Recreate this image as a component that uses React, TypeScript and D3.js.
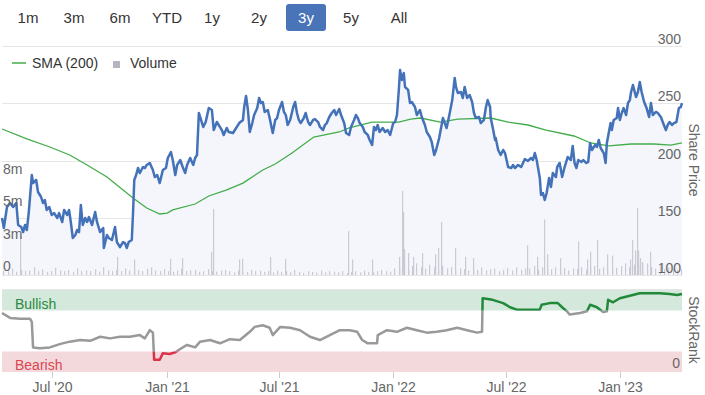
import React from 'react';
import * as d3 from 'd3';

const W = 705;
const H = 395;
const START = new Date(2020, 3, 11);
const END = new Date(2023, 3, 11);

const rangeButtons = ['1m', '3m', '6m', 'YTD', '1y', '2y', '3y', '5y', 'All'];
const rangeButtonX = [28, 74, 120, 167, 212, 259, 306, 351, 399];
const selectedButton = '3y';

const priceTicks = [100, 150, 200, 250, 300];
const volumeTicks = [0, 2.5, 5, 7.5];
const volumeTickLabels = ['0', '3m', '5m', '8m'];
const xTickDates = ['2020-07-01', '2021-01-01', '2021-07-01', '2022-01-01', '2022-07-01', '2023-01-01'];
const xTickLabels = ["Jul '20", "Jan '21", "Jul '21", "Jan '22", "Jul '22", "Jan '23"];

// Share price: day offset from START, price
const priceDays = [0,3,8,13,18,23,26,31,34,37,40,43,48,50,55,58,63,66,69,72,76,80,84,89,92,97,100,105,108,111,114,118,121,124,127,130,134,137,140,145,150,153,158,163,164,169,172,177,182,185,190,195,198,201,204,209,211,213,216,219,222,227,230,233,238,243,246,250,254,259,264,267,272,275,279,282,287,291,295,298,303,308,311,314,317,324,328,333,338,341,346,349,354,357,362,365,372,377,382,388,390,393,396,399,403,406,411,414,417,420,423,428,431,436,440,443,446,451,454,457,460,464,469,472,475,478,481,486,489,493,496,501,504,509,512,517,520,523,527,531,535,538,543,546,551,554,559,562,567,570,573,576,581,584,589,592,596,599,602,605,608,613,617,621,625,630,633,636,639,641,644,647,649,654,657,660,665,668,673,676,681,684,689,692,696,699,704,707,710,713,716,721,725,729,731,734,739,742,745,749,753,757,760,763,768,771,776,779,782,786,787,791,794,795,799,803,807,810,815,820,823,826,831,836,839,842,847,852,855,858,861,866,868,871,874,877,881,884,887,892,894,898,902,906,911,916,919,922,925,928,933,936,941,944,947,950,955,958,961,964,969,972,974,977,980,982,985,990,992,995,998,1001,1005,1008,1011,1013,1016,1021,1024,1027,1030,1034,1038,1042,1045,1048,1053,1056,1061,1064,1069,1072,1075,1079,1082,1086,1090,1093,1095];
const priceValues = [149.8,141.0,159.4,162.9,159.4,162.9,143.7,141.9,137.5,143.7,139.3,154.1,187.3,180.3,183.0,172.5,168.1,162.9,165.5,156.8,159.4,152.4,154.1,149.8,154.1,146.3,156.8,152.4,156.8,145.4,132.3,134.9,139.3,137.5,161.1,143.7,149.8,146.3,150.6,143.7,155.0,146.3,137.5,141.0,123.6,134.9,132.3,130.6,141.9,128.8,124.4,128.8,127.9,123.6,128.8,130.6,154.1,183.0,187.3,193.4,189.1,194.3,193.4,196.1,197.8,191.7,185.6,187.3,180.3,191.7,193.4,202.2,207.4,200.4,187.3,196.1,200.4,194.3,189.1,196.1,202.2,196.1,202.2,204.8,241.5,229.3,233.6,245.8,244.1,226.6,233.6,231.0,226.6,222.3,228.4,224.9,224.0,228.4,232.7,235.4,246.7,256.3,244.1,224.9,232.7,239.7,245.8,254.6,250.2,251.1,242.4,244.1,237.1,224.0,235.4,237.1,244.1,251.1,242.4,239.7,231.0,235.4,246.7,251.1,241.5,235.4,232.7,237.1,241.5,233.6,231.0,235.4,236.2,233.6,229.3,226.6,231.0,232.7,238.0,241.5,244.1,239.7,245.0,239.7,232.7,224.0,222.3,229.3,235.4,239.7,237.1,232.7,229.3,224.9,222.3,217.9,213.5,229.3,226.6,231.0,224.9,228.4,224.9,226.6,222.3,232.7,233.6,239.7,261.6,279.0,270.3,276.4,264.2,261.6,250.2,251.1,246.7,239.7,244.1,238.0,231.0,224.9,220.5,216.2,204.8,209.2,219.6,228.4,237.1,232.7,228.4,241.5,252.8,272.1,264.2,259.0,259.8,254.6,264.2,254.6,257.2,251.1,241.5,237.1,238.0,232.7,235.4,245.8,252.8,246.7,237.1,226.6,217.9,219.6,209.2,204.8,209.2,206.5,194.3,193.4,196.1,193.4,196.1,194.3,197.8,201.3,199.6,202.2,200.4,206.5,200.4,184.7,169.9,171.6,165.5,171.6,184.7,176.9,189.1,185.6,194.3,197.8,185.6,194.3,203.1,200.4,212.7,197.8,193.4,200.4,198.7,200.4,197.8,198.7,215.3,209.2,213.5,211.8,217.9,210.9,206.5,197.8,215.3,224.0,232.7,226.6,235.4,237.1,245.8,235.4,241.5,245.8,239.7,250.2,252.8,259.8,265.9,255.5,259.8,268.6,259.8,251.1,245.8,238.0,250.2,239.7,242.4,241.5,238.0,233.6,226.6,231.0,233.6,231.0,232.7,233.6,245.8,246.7,250.2];

// SMA (200)
const smaDays = [0,40,77,109,137,169,195,211,233,254,266,275,311,333,361,388,420,440,467,502,543,559,596,639,658,674,706,734,787,815,847,876,921,948,977,1013,1050,1077,1095];
const smaValues = [227.5,218.8,211.8,204.8,196.1,185.6,174.2,167.2,158.5,153.3,154.1,156.8,162.0,169.0,174.2,180.3,191.7,196.9,206.5,220.5,224.9,228.4,233.6,233.6,236.2,237.1,233.6,236.2,237.1,233.6,231.0,226.6,221.4,215.3,212.7,214.4,214.4,213.5,215.3];

// Volume (millions): weekly base bars plus the large-volume days
const volumeWeekly = [
  0.35,0.3,0.5,0.25,0.4,0.3,0.35,0.6,0.3,0.45,0.25,0.3,0.55,0.35,0.3,0.4,0.25,0.5,0.3,0.35,0.3,0.45,0.25,0.6,0.35,0.3,0.4,0.3,0.5,0.35,0.3,
  0.4,0.3,0.5,0.6,0.35,0.3,0.45,0.3,0.25,0.35,0.5,0.3,0.35,0.4,0.25,0.3,0.45,0.3,0.25,0.35,0.4,0.3,0.2,0.35,0.3,0.25,0.4,0.3,0.35,0.25,
  0.3,0.2,0.35,0.25,0.3,0.2,0.4,0.25,0.15,0.3,0.25,0.2,0.35,0.2,0.3,0.25,0.2,0.3,0.15,0.25,0.3,0.2,0.35,0.25,0.2,0.3,0.4,0.3,0.25,0.5,
  0.6,0.8,0.5,0.7,0.9,0.6,0.5,0.8,0.6,0.4,0.7,0.5,0.6,0.4,0.5,0.45,0.35,0.5,0.4,0.6,0.35,0.45,0.5,0.3,0.4,0.55,0.35,0.6,0.4,0.5,
  0.5,0.7,0.4,0.6,0.5,0.45,0.6,0.4,0.55,0.35,0.5,0.45,0.6,0.4,0.5,0.7,0.45,0.6,0.5,0.4,0.55,0.7,0.9,0.6,0.8,1.0,0.7,0.9,0.6,0.5,0.7,0.45,0.6,0.5,0.4,0.45
];
const volumeSpikeDays = [29,185,213,270,290,336,340,382,386,431,456,557,563,596,639,644,646,647,654,662,676,697,702,707,729,745,758,845,861,873,877,898,927,942,947,958,974,982,1011,1014,1019,1022,1024,1027,1031,1043];
const volumeSpikeValues = [3.0,1.4,1.2,1.25,1.3,1.8,5.1,1.2,1.25,1.4,1.25,3.4,1.2,1.2,1.4,6.5,4.9,2.0,1.7,1.4,1.7,1.6,2.1,4.1,2.1,1.4,1.3,2.3,1.4,4.3,1.6,1.3,2.6,1.2,1.8,2.7,1.6,1.5,1.2,2.7,1.9,5.2,1.9,1.3,1.0,1.8];

// StockRank
const rankDays = [0,13,29,45,48,50,61,77,93,109,126,142,158,174,190,206,222,230,238,243,245,254,259,270,279,287,298,311,319,335,351,367,383,399,407,420,431,436,448,464,480,496,512,528,544,560,572,580,589,604,605,620,636,652,668,684,700,716,733,749,765,773,774,790,807,818,829,850,866,869,882,895,902,911,914,931,942,947,958,968,974,976,984,995,1011,1027,1043,1059,1075,1087,1095];
const rankValues = [72,66,65,65,61,30,29,30,34,37,39,38,43,41,43,43,45,41,51,48,15,15,23,22,24,28,33,30,37,39,35,40,39,49,55,57,54,45,55,54,51,43,39,45,51,51,49,39,35,35,45,51,49,54,51,48,49,51,54,51,48,49,90,88,84,79,76,76,76,82,84,84,79,73,70,72,74,82,79,73,74,88,85,90,93,96,96,96,95,94,95];

const BULL = 75;
const BEAR = 25;

const FONT = '"Liberation Sans", Arial, Helvetica, sans-serif';

export default function App() {
  const left = 2;
  const right = 682;
  const pTop = 46;
  const pBottom = 275;
  const rTop = 290;
  const rBottom = 372;

  const day = (d: number) => d3.timeDay.offset(START, d);
  const x = d3.scaleTime().domain([START, END]).range([left, right]);
  const yP = d3.scaleLinear().domain([100, 300]).range([pBottom, pTop]);
  const yV = d3.scaleLinear().domain([0, 7.5]).range([pBottom, pBottom - 97]);
  const yR = d3.scaleLinear().domain([0, 100]).range([rBottom, rTop]);

  const price = priceDays.map((d, i) => ({ t: day(d), v: priceValues[i] }));
  const sma = smaDays.map((d, i) => ({ t: day(d), v: smaValues[i] }));
  const rank = rankDays.map((d, i) => ({ t: day(d), v: rankValues[i] }));
  const vols = [
    ...volumeWeekly.map((v, i) => ({ t: d3.timeDay.offset(START, 2 + i * 7), v })),
    ...volumeSpikeDays.map((d, i) => ({ t: day(d), v: volumeSpikeValues[i] })),
  ];

  const line = d3.line<{ t: Date; v: number }>().x((d) => x(d.t)).y((d) => yP(d.v));
  const area = d3
    .area<{ t: Date; v: number }>()
    .x((d) => x(d.t))
    .y0(pBottom)
    .y1((d) => yP(d.v));
  const rankLine = d3.line<{ t: Date; v: number }>().x((d) => x(d.t)).y((d) => yR(d.v));

  const bullY = yR(BULL);
  const bearY = yR(BEAR);

  return (
    <svg
      width={W}
      height={H}
      style={{ position: 'absolute', left: 0, top: 0, fontFamily: FONT }}
    >
      <rect x={0} y={0} width={W} height={H} fill="#ffffff" />
      <defs>
        <clipPath id="clipGray">
          <rect x={0} y={bullY} width={W} height={bearY - bullY} />
        </clipPath>
        <clipPath id="clipGreen">
          <rect x={0} y={0} width={W} height={bullY} />
        </clipPath>
        <clipPath id="clipRed">
          <rect x={0} y={bearY} width={W} height={H - bearY} />
        </clipPath>
      </defs>

      {/* range selector */}
      {rangeButtons.map((b, i) => {
        const sel = b === selectedButton;
        return (
          <g key={b}>
            {sel && (
              <rect x={rangeButtonX[i] - 20} y={4} width={40} height={27} rx={3} fill="#4a74b8" />
            )}
            <text
              x={rangeButtonX[i]}
              y={23}
              textAnchor="middle"
              fontSize={15}
              fill={sel ? '#ffffff' : '#333333'}
            >
              {b}
            </text>
          </g>
        );
      })}

      {/* price grid */}
      {priceTicks.map((t) => (
        <line key={t} x1={left} x2={right} y1={Math.round(yP(t)) + 0.5} y2={Math.round(yP(t)) + 0.5} stroke="#e6e6e6" strokeWidth={1} />
      ))}

      {/* price area */}
      <path d={area(price) || ''} fill="#f4f6fb" />

      {/* volume */}
      {vols.map((d, i) => (
        <rect
          key={i}
          x={Math.round(x(d.t))}
          y={yV(d.v)}
          width={1.2}
          height={pBottom - yV(d.v)}
          fill="#c9cad3"
        />
      ))}

      {/* SMA */}
      <path d={line(sma) || ''} fill="none" stroke="#43ad4a" strokeWidth={1.3} />

      {/* price line */}
      <path d={line(price) || ''} fill="none" stroke="#4472b8" strokeWidth={2.5} strokeLinejoin="round" />

      {/* price tick labels */}
      {priceTicks.map((t) => (
        <text key={t} x={681} y={yP(t) - 2} textAnchor="end" fontSize={14} fill="#666666">
          {t}
        </text>
      ))}

      {/* volume tick labels */}
      {volumeTicks.map((t, i) => (
        <text key={t} x={3} y={yV(t) - 4} textAnchor="start" fontSize={14} fill="#666666">
          {volumeTickLabels[i]}
        </text>
      ))}

      {/* legend */}
      <line x1={12} x2={26} y1={63} y2={63} stroke="#43ad4a" strokeWidth={1.5} />
      <text x={32} y={68} fontSize={14} fill="#333333">SMA (200)</text>
      <rect x={113} y={61} width={7} height={7} fill="#b4b5bf" />
      <text x={130} y={68} fontSize={14} fill="#333333">Volume</text>

      {/* axis titles */}
      <text transform="translate(689,160) rotate(90)" textAnchor="middle" fontSize={14} fill="#666666">
        Share Price
      </text>
      <text transform="translate(689,330) rotate(90)" textAnchor="middle" fontSize={14} fill="#666666">
        StockRank
      </text>

      {/* StockRank panel */}
      <line x1={left} x2={right} y1={289.5} y2={289.5} stroke="#e6e6e6" />
      <rect x={left} y={yR(100)} width={right - left} height={bullY - yR(100)} fill="#d4e8dc" />
      <rect x={left} y={bearY} width={right - left} height={yR(0) - bearY} fill="#f4d9dc" />
      <text x={15} y={309} fontSize={14} fill="#2a8a3e">Bullish</text>
      <text x={15} y={370} fontSize={14} fill="#d9454f">Bearish</text>
      <text x={680} y={368} textAnchor="end" fontSize={14} fill="#666666">0</text>

      <g clipPath="url(#clipGray)">
        <path d={rankLine(rank) || ''} fill="none" stroke="#999999" strokeWidth={2.5} strokeLinejoin="round" />
      </g>
      <g clipPath="url(#clipGreen)">
        <path d={rankLine(rank) || ''} fill="none" stroke="#218a3a" strokeWidth={2.5} strokeLinejoin="round" />
      </g>
      <g clipPath="url(#clipRed)">
        <path d={rankLine(rank) || ''} fill="none" stroke="#d9334a" strokeWidth={2.5} strokeLinejoin="round" />
      </g>

      {/* x axis */}
      {xTickDates.map((s, i) => {
        const t = d3.timeParse('%Y-%m-%d')(s) as Date;
        const px = Math.round(x(t)) + 0.5;
        return (
          <g key={s}>
            <line x1={px} x2={px} y1={rBottom} y2={rBottom + 6} stroke="#cccccc" />
            <text x={px} y={392} textAnchor="middle" fontSize={14} fill="#666666">
              {xTickLabels[i]}
            </text>
          </g>
        );
      })}
    </svg>
  );
}
